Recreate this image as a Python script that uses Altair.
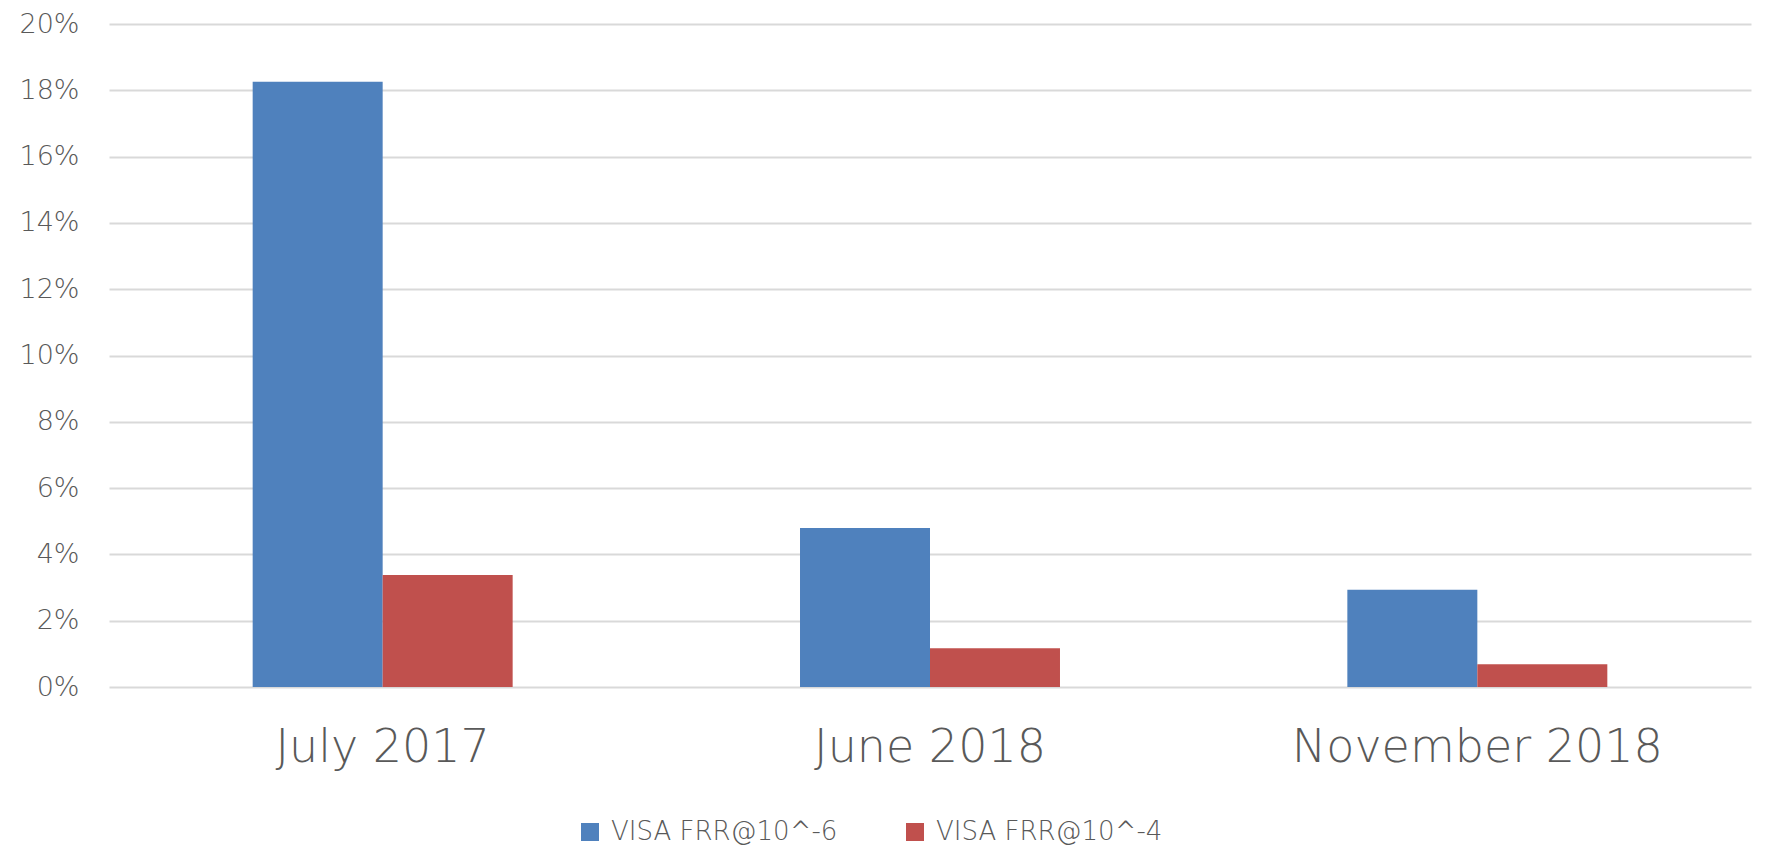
import altair as alt
import pandas as pd

periods = ["July 2017", "June 2018", "November 2018"]
series = ["VISA FRR@10^-6", "VISA FRR@10^-4"]
frr_1e6 = [18.26, 4.80, 2.93]
frr_1e4 = [3.38, 1.17, 0.69]
colors = ["#4f81bd", "#c0504d"]
y_ticks = [0, 2, 4, 6, 8, 10, 12, 14, 16, 18, 20]

rows = []
for p, a, b in zip(periods, frr_1e6, frr_1e4):
    rows.append({"period": p, "series": series[0], "value": a / 100})
    rows.append({"period": p, "series": series[1], "value": b / 100})
df = pd.DataFrame(rows)

FONT = "DejaVu Sans"
TXT = "#595959"

chart = (
    alt.Chart(df)
    .mark_bar()
    .encode(
        x=alt.X(
            "period:N",
            sort=periods,
            title=None,
            scale=alt.Scale(paddingInner=0.525, paddingOuter=0.2625),
            axis=alt.Axis(
                labelAngle=0,
                ticks=False,
                domain=False,
                labelFontSize=46,
                labelFont=FONT,
                labelFontWeight=300,
                labelColor=TXT,
                labelPadding=38,
                labelLimit=0,
            ),
        ),
        xOffset=alt.XOffset("series:N", sort=series),
        y=alt.Y(
            "value:Q",
            title=None,
            scale=alt.Scale(domain=[0, 0.2], nice=False),
            axis=alt.Axis(
                values=[v / 100 for v in y_ticks],
                format=".0%",
                ticks=False,
                domain=False,
                grid=True,
                gridColor="#d9d9d9",
                gridWidth=2,
                labelFontSize=27,
                labelFont=FONT,
                labelFontWeight=300,
                labelColor=TXT,
                labelPadding=30,
            ),
        ),
        color=alt.Color(
            "series:N",
            sort=series,
            scale=alt.Scale(domain=series, range=colors),
            legend=alt.Legend(
                title=None,
                orient="none",
                direction="horizontal",
                legendX=468,
                legendY=795,
                symbolType="square",
                symbolSize=324,
                symbolStrokeWidth=0,
                labelFontSize=26,
                labelFont=FONT,
                labelFontWeight=300,
                labelColor=TXT,
                labelOffset=8,
                labelLimit=0,
                columnPadding=64,
                padding=0,
            ),
        ),
    )
    .properties(
        width=1642,
        height=663,
        autosize=alt.AutoSizeParams(type="none"),
        padding={"left": 101, "top": 16, "right": 6, "bottom": 161},
    )
    .configure_view(stroke=None)
)

chart.save("out.html", embed_options={"renderer": "svg", "actions": False})
